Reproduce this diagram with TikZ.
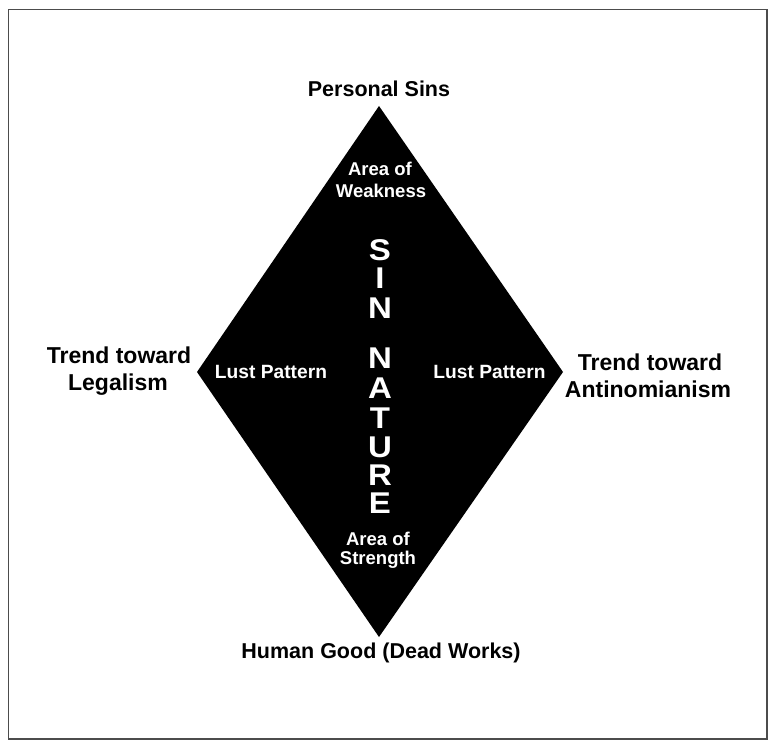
\documentclass[tikz,border=0pt]{standalone}
\usepackage{fontspec}
\setmainfont{Liberation Sans}
\begin{document}
\begin{tikzpicture}[x=1pt,y=-1pt,
  outer/.style={anchor=base,inner sep=0pt,font=\bfseries\fontsize{21.5}{26}\selectfont,text=black},
  side/.style={outer,font=\bfseries\fontsize{23}{27}\selectfont},
  inner/.style={anchor=base,inner sep=0pt,font=\bfseries\fontsize{18.5}{22}\selectfont,text=white},
  lust/.style={inner,font=\bfseries\fontsize{19.2}{22}\selectfont},
  big/.style={anchor=base,inner sep=0pt,xscale=1.1,font=\bfseries\fontsize{30}{30}\selectfont,text=white}]
\useasboundingbox (0,0) rectangle (769,741);
\draw[line width=1.5pt,black!70] (8.5,9.5) rectangle (767,739);
\coordinate (T) at (379,106);
\coordinate (R) at (563,372);
\coordinate (B) at (379,637);
\coordinate (L) at (197,372);
\fill[black] (T) -- (R) -- (B) -- (L) -- cycle;
% outer labels
\node[outer] (ps) at (379,97) {Personal Sins};
\node[outer] (hg) at (381,658) {Human Good (Dead Works)};
\node[side] (tl1) at (119,363) {Trend toward};
\node[side] (tl2) at (118,390) {Legalism};
\node[side] (tr1) at (650,370) {Trend toward};
\node[side] (tr2) at (648,397) {Antinomianism};
% inner labels
\node[inner] (aw1) at (380,176) {Area of};
\node[inner] (aw2) at (381,198) {Weakness};
\node[inner] (as1) at (378,545) {Area of};
\node[inner] (as2) at (378,564) {Strength};
\node[lust] (lpl) at (271,378) {Lust Pattern};
\node[lust] (lpr) at (489.5,378) {Lust Pattern};
% SIN NATURE
\node[big] (s1) at (380,260) {S};
\node[big] (s2) at (380,288) {I};
\node[big] (s3) at (380,318) {N};
\node[big] (n1) at (380,368) {N};
\node[big] (n2) at (380,398) {A};
\node[big] (n3) at (380,428.5) {T};
\node[big] (n4) at (380,457) {U};
\node[big] (n5) at (380,485.5) {R};
\node[big] (n6) at (380,513) {E};
\end{tikzpicture}
\end{document}
